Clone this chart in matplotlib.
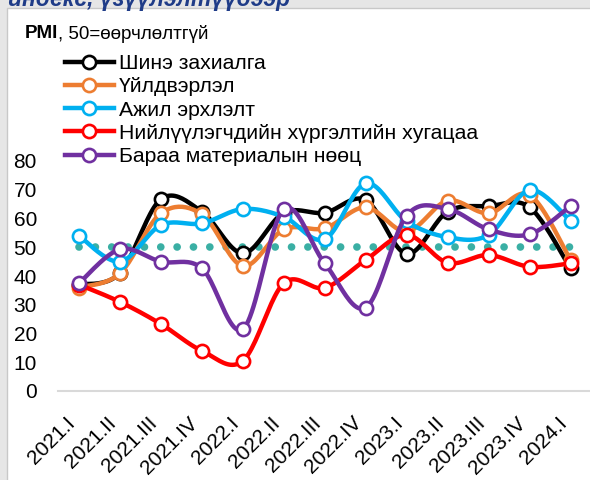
import numpy as np
import matplotlib
matplotlib.use('Agg')
import matplotlib.pyplot as plt
from matplotlib.lines import Line2D
from matplotlib.patches import Rectangle

plt.rcParams['font.family'] = ['Liberation Sans', 'DejaVu Sans']

# data
quarters = ['2021.I', '2021.II', '2021.III', '2021.IV', '2022.I', '2022.II', '2022.III',
            '2022.IV', '2023.I', '2023.II', '2023.III', '2023.IV', '2024.I']
new_orders = [37, 41, 66.7, 62.4, 47.9, 62, 62, 66.4, 47.7, 62.4, 64.3, 63.9, 42.7]
output = [36, 40.9, 61.8, 61.5, 43.5, 56.2, 56.6, 63.9, 55.5, 66.2, 61.8, 68.2, 45.6]
employment = [54, 45, 57.7, 58.3, 63.3, 60.6, 52.8, 72.2, 59, 53.5, 54.3, 69.9, 59.2]
delivery = [37, 31, 23.3, 14, 10.5, 37.5, 35.9, 45.6, 54.3, 44.6, 47.3, 43.2, 44.4]
inventory = [37.5, 49.3, 45, 42.7, 21.5, 63.2, 44.4, 29, 61, 63.3, 56.2, 54.5, 64.3]
neutral = [50] * len(quarters)

labels = ['Шинэ захиалга', 'Үйлдвэрлэл', 'Ажил эрхлэлт',
          'Нийлүүлэгчдийн хүргэлтийн хугацаа', 'Бараа материалын нөөц']
colors = ['#000000', '#ED7D31', '#00B0F0', '#FF0000', '#7030A0']
series = [new_orders, output, employment, delivery, inventory]


def smooth(y, n=24):
    # excel style smoothed line (catmull-rom through the points)
    y = np.asarray(y, dtype=float)
    x = np.arange(len(y), dtype=float)
    px = np.concatenate([[x[0]], x, [x[-1]]])
    py = np.concatenate([[y[0]], y, [y[-1]]])
    xs, ys = [], []
    t = np.linspace(0, 1, n)
    for i in range(1, len(px) - 2):
        for arr, out in ((px, xs), (py, ys)):
            p0, p1, p2, p3 = arr[i - 1], arr[i], arr[i + 1], arr[i + 2]
            c1 = p1 + (p2 - p0) / 6
            c2 = p2 - (p3 - p1) / 6
            out.extend((1 - t) ** 3 * p1 + 3 * (1 - t) ** 2 * t * c1
                       + 3 * (1 - t) * t ** 2 * c2 + t ** 3 * p2)
    return np.array(xs), np.array(ys)


W, H = 590, 480
fig = plt.figure(figsize=(W / 100, H / 100), dpi=100, facecolor='#e6e6e6')
fig.patches.append(Rectangle((7 / W, -0.01), 1.0, 1 - 8 / H + 0.01, transform=fig.transFigure,
                             facecolor='white', edgecolor='#c8c8c8', lw=1, zorder=-10))

fig.text(8 / W, 1 - 6 / H, 'индекс, үзүүлэлтүүдээр', fontsize=16.5, fontweight='bold',
         style='italic', color='#1F3C88', va='baseline', ha='left')

ax = fig.add_axes([58.5 / W, 1 - 391 / H, (591 - 58.5) / W, 230 / H])
ax.set_facecolor('none')
x = np.arange(len(quarters))

ax.plot(x, neutral, color='#3AAFA4', lw=5.5, linestyle=(0, (0.01, 2.13)),
        dash_capstyle='round', zorder=1)

handles = []
for i, (vals, c, lab) in enumerate(zip(series, colors, labels)):
    sx, sy = smooth(vals)
    ax.plot(sx, sy, color=c, lw=3.2, solid_capstyle='round', zorder=2 + i)
    ax.plot(x, vals, linestyle='none', marker='o', ms=9.5, mfc='white', mec=c, mew=1.9,
            zorder=2 + i)
    handles.append(Line2D([], [], color=c, lw=3.2, marker='o', ms=9.5, mfc='white', mec=c,
                          mew=1.9))

ax.set_xlim(-0.5, len(quarters) - 0.5)
ax.set_ylim(0, 80)
ax.set_yticks(range(0, 81, 10))
ax.set_xticks(x)
ax.set_xticklabels(quarters, rotation=45, ha='right', va='top')
ax.tick_params(axis='y', length=0, pad=15.5, labelsize=15)
ax.tick_params(axis='x', length=0, pad=16, labelsize=15)
for s in ['top', 'right', 'left']:
    ax.spines[s].set_visible(False)
ax.spines['bottom'].set_color('#d9d9d9')
ax.spines['bottom'].set_linewidth(1.5)

fig.legend(handles, labels, loc='upper left', bbox_to_anchor=(65 / W, 1 - 54 / H),
           frameon=False, fontsize=15.3, handlelength=2.3, handletextpad=0.25,
           labelspacing=0.2, borderpad=0, borderaxespad=0)

t1 = fig.text(25 / W, 1 - 34 / H, 'PMI', fontsize=13.5, fontweight='bold', va='center', ha='left')
r = fig.canvas.get_renderer()
bb = t1.get_window_extent(renderer=r)
fig.text(bb.x1 / W, 1 - 34 / H, ', 50=өөрчлөлтгүй', fontsize=13.5, va='center', ha='left')

fig.savefig('out.png', dpi=100, facecolor=fig.get_facecolor())
